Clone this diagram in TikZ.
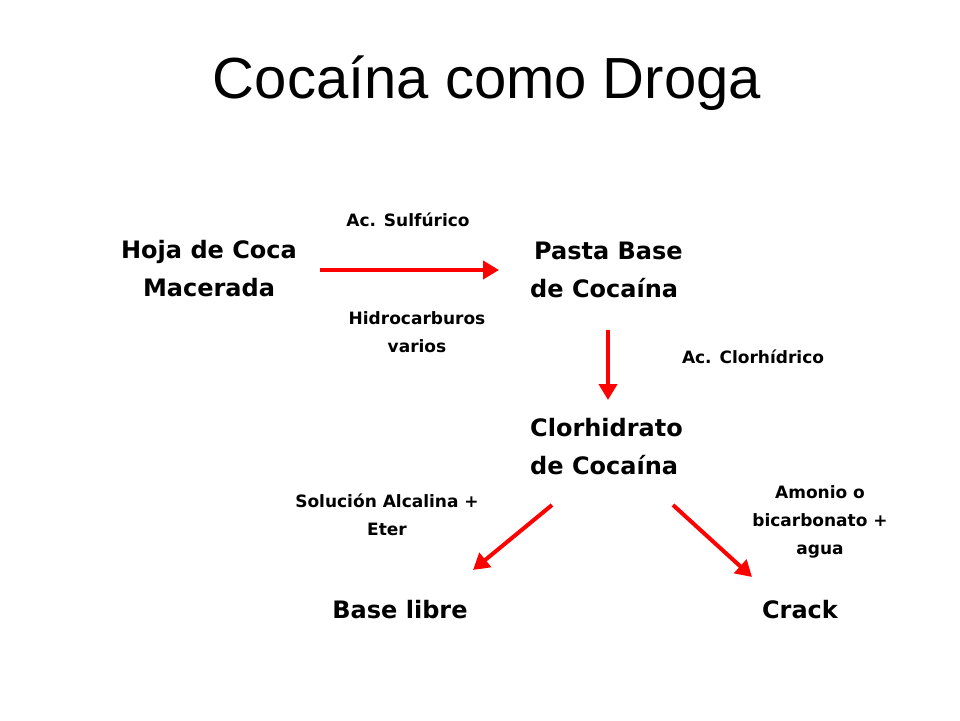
\documentclass[tikz,border=0pt]{standalone}
\usepackage{fontspec}
\setmainfont{Liberation Sans}
\newfontfamily\tah{DejaVu Sans}
\usetikzlibrary{arrows.meta}
\begin{document}
\begin{tikzpicture}[x=1pt,y=-1pt,
  big/.style={font=\tah\bfseries\fontsize{24}{38}\selectfont,align=center,inner sep=0},
  bigl/.style={font=\tah\bfseries\fontsize{24}{38}\selectfont,align=left,anchor=north west,inner sep=0},
  small/.style={font=\tah\bfseries\fontsize{17}{28}\selectfont,align=center,inner sep=0},
  arr/.style={draw=red,line width=4pt,-{Triangle[length=16pt,width=18pt]}}]
\useasboundingbox (0,0) rectangle (960,720);
\node (title) at (487,83) {\fontsize{58}{60}\selectfont Cocaína como Droga};
\node[big] (hoja) at (209,269) {Hoja de Coca\\Macerada};
\node[bigl] (pasta) at (530,242) {\,Pasta Base\\de Cocaína};
\node[bigl] (clor) at (530,418) {Clorhidrato\\de Cocaína};
\node[big] (base) at (400,610) {Base libre};
\node[big] (crack) at (800,610) {Crack};
\node[small] (l1) at (408,220) {Ac. Sulfúrico};
\node[small] (l2) at (417,332) {Hidrocarburos\\varios};
\node[small] (l3) at (753,357) {Ac. Clorhídrico};
\node[small] (l4) at (387,515) {Solución Alcalina +\\Eter};
\node[small] (l5) at (820,522) {Amonio o\\bicarbonato +\\agua};
\coordinate (a1) at (320,270); \coordinate (b1) at (499,270);
\coordinate (a2) at (608,330); \coordinate (b2) at (608,400);
\coordinate (a3) at (552,505); \coordinate (b3) at (473,570);
\coordinate (a4) at (673,505); \coordinate (b4) at (752,577);
\draw[arr] (a1) -- (b1);
\draw[arr] (a2) -- (b2);
\draw[arr] (a3) -- (b3);
\draw[arr] (a4) -- (b4);
\end{tikzpicture}
\end{document}
